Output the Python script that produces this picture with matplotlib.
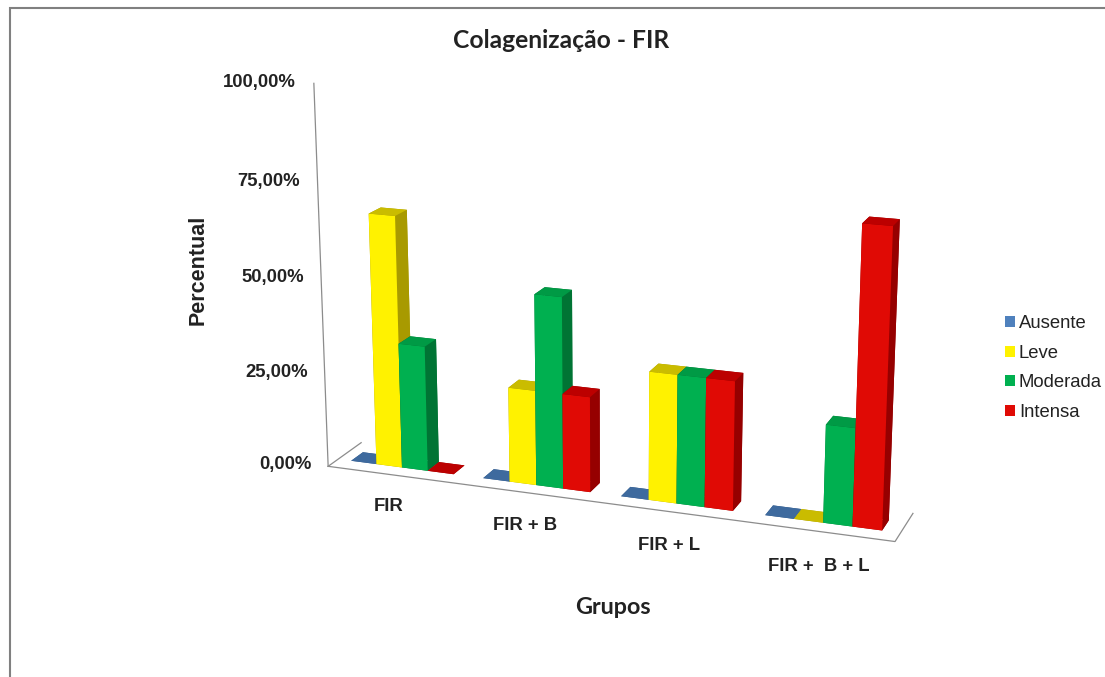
import numpy as np
import matplotlib
matplotlib.use("Agg")
import matplotlib.pyplot as plt
from matplotlib.patches import Rectangle

plt.rcParams['font.family'] = ['Liberation Sans', 'DejaVu Sans']

grupos = ["FIR", "FIR + B", "FIR + L", "FIR +  B + L"]
series = ["Ausente", "Leve", "Moderada", "Intensa"]
ausente = [0, 0, 0, 0]
leve = [66.67, 25, 33.33, 0]
moderada = [33.33, 50, 33.33, 25]
intensa = [0, 25, 33.33, 75]
z_ticks = [0, 25, 50, 75, 100]
z_labels = ["0,00%", "25,00%", "50,00%", "75,00%", "100,00%"]

front = ["#3e6fa8", "#fff200", "#00b050", "#e00a05"]
side = ["#2f5583", "#a89a00", "#007434", "#960000"]
top = ["#3e6a9e", "#cabc00", "#009a45", "#bc0000"]

fig = plt.figure(figsize=(11.05, 6.77), dpi=100)
fig.patches.append(Rectangle((10 / 1105, -0.01), 1.1, 1 - 8 / 677 + 0.01, transform=fig.transFigure,
                             fill=False, ec="#808080", lw=1.5))

ax = fig.add_axes([0.044, -0.066, 1.0, 1.22], projection='3d', computed_zorder=False)
ax.set_proj_type('persp', focal_length=0.5)
ax.view_init(elev=16, azim=-70)
ax.set_box_aspect((3.65, 0.47, 2.45), zoom=0.867)
ax.set_axis_off()
ax.patch.set_alpha(0)

bar_w = 0.195
bar_d = 0.36
# drawn left to right, the view comes from the right
order = 2
for g in range(len(grupos)):
    for s, vals in enumerate([ausente, leve, moderada, intensa]):
        x = g + 0.10 + s * bar_w
        cols = [side[s], top[s], front[s], side[s], side[s], side[s]]
        ax.bar3d(x, 0.3, 0, bar_w, bar_d, vals[g], color=cols, shade=False, zsort='max', zorder=order)
        order += 1

ax.set_xlim(0, 4)
ax.set_ylim(0, 1)
ax.set_zlim(0, 100)
ax.set_xticks([])
ax.set_yticks([])
ax.set_zticks([])

# frame of the floor and the value axis
line = dict(color="#8c8c8c", lw=0.9, zorder=1)
ax.plot([0, 4, 4], [0, 0, 1], [0, 0, 0], **line)
ax.plot([0, 0], [0, 1], [0, 0], **line)
ax.plot([0, 0], [0, 0], [0, 100], **line)

for z, lab in zip(z_ticks, z_labels):
    ax.text(-0.13, 0, z, lab, ha='right', va='center', fontsize=13.3, fontweight='bold', color="#222222")
for g, lab in enumerate(grupos):
    ax.text(g + 0.57, -0.47, -5, lab, ha='center', va='center', fontsize=13.3, fontweight='bold', color="#222222")

fig.text(561 / 1105, 1 - 41 / 677, "Colagenização - FIR", ha='center', va='center', fontsize=17.7,
         fontweight='bold', family=['Lato', 'DejaVu Sans'], color="#222222")
fig.text(613 / 1105, 1 - 607 / 677, "Grupos", ha='center', va='center', fontsize=16.8,
         fontweight='bold', family=['Lato', 'DejaVu Sans'], color="#222222")
fig.text(198 / 1105, 1 - 270 / 677, "Percentual", rotation=90, ha='center', va='center', fontsize=15.5,
         fontweight='bold', color="#222222")

handles = [Rectangle((0, 0), 1, 1, fc=c) for c in ["#4f81bd", "#fff200", "#00b050", "#e00a05"]]
fig.legend(handles, series, loc='center left', bbox_to_anchor=(1005 / 1105, 1 - 368 / 677), frameon=False,
           fontsize=13.3, handlelength=0.55, handleheight=0.55, handletextpad=0.2, labelspacing=0.68,
           borderpad=0, borderaxespad=0, labelcolor="#222222")

fig.savefig("out.png", dpi=100)
